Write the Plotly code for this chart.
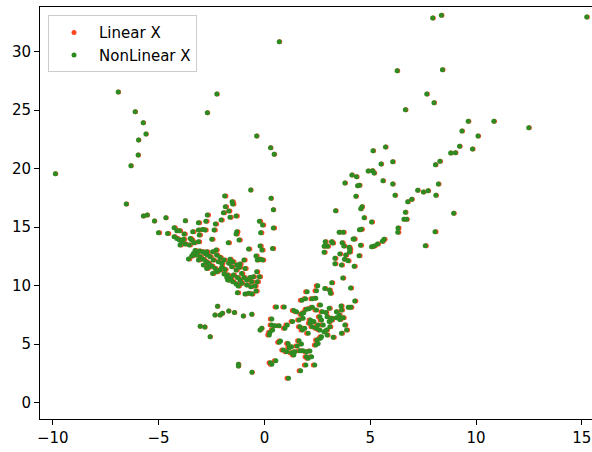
import plotly.graph_objects as go

# ---- Sparse upper-left points ----
a_nl_x = [-9.88, -6.91, -6.53, -6.31, -6.11, -5.95, -5.97, -5.73, -5.60, -5.72,
          -5.54, -5.20, -4.66, -3.74, -2.70, -2.25, 0.70, -0.37, 0.29, 0.46,
          -0.65, 0.31, 0.42]
a_lin_x = [-9.86, -6.89, -6.51, -6.29, -6.09, -5.93, -5.95, -5.71, -5.58, -5.70,
           -5.52, -5.18, -4.64, -3.72, -2.68, -2.23, 0.72, -0.35, 0.31, 0.48,
           -0.63, 0.33, 0.44]
a_y = [19.56, 26.55, 16.98, 20.26, 24.87, 22.45, 21.17, 23.93, 22.97, 15.96,
       16.04, 15.53, 15.81, 15.56, 24.79, 26.38, 30.86, 22.79, 21.80, 21.23,
       18.18, 17.47, 16.50]

# ---- Left cluster ----
b_nl_x = [-1.88, -1.53, -1.50, -1.85, -1.69, -1.94, -2.70, -1.63, -1.34, -3.12,
          -2.77, -2.05, -2.32, -0.24, -0.09, 0.42, -5.01, -4.58, -4.27, -4.14,
          -4.02, -3.80, -3.39, -3.12, -2.93, -2.81, -2.38, -1.31, -1.34, -0.18,
          -3.08, -4.27, -4.14, -4.02, -3.91, -3.83, -3.51, -3.44, -3.33, -3.12,
          -3.55, -3.75, -3.99, -2.49, -1.71, -1.20, -0.75, -0.21, -0.12, 0.38,
          -3.59, -3.36, -3.23, -3.44, -3.08, -2.92, -2.81, -2.70, -3.04, -2.89,
          -2.76, -2.65, -2.49, -2.34, -2.57, -2.42, -2.26, -2.10, -2.18, -2.02,
          -1.91, -1.63, -1.50, -1.69, -1.31, -1.16, -0.97, -2.65, -2.45, -2.26,
          -2.10, -1.91, -1.78, -1.66, -2.02, -1.87, -1.55, -1.34, -1.19, -1.08,
          -0.92, -0.40, -0.34, -0.21, -0.09, -1.47, -1.28, -1.16, -0.97, -0.84,
          -0.69, -0.53, -1.50, -1.34, -1.24, -1.08, -0.84, -0.65, -0.45, -0.61,
          -0.34, -0.37, -0.24, -1.74, -1.60, -1.75, -3.20, -3.28, -3.12, -2.89,
          -2.73, -2.45, -2.29, -2.73, -1.28, -0.92, -0.60, -0.40, -0.75]
b_lin_x = [-1.82, -1.47, -1.44, -1.79, -1.63, -1.88, -2.64, -1.57, -1.28, -3.06,
           -2.71, -1.99, -2.26, -0.18, -0.03, 0.48, -4.95, -4.52, -4.21, -4.08,
           -3.96, -3.74, -3.33, -3.06, -2.87, -2.75, -2.32, -1.25, -1.28, -0.12,
           -3.02, -4.21, -4.08, -3.96, -3.85, -3.77, -3.45, -3.38, -3.27, -3.06,
           -3.49, -3.69, -3.93, -2.43, -1.65, -1.14, -0.69, -0.15, -0.06, 0.44,
           -3.53, -3.30, -3.17, -3.38, -3.02, -2.86, -2.75, -2.64, -2.98, -2.83,
           -2.70, -2.59, -2.43, -2.28, -2.51, -2.36, -2.20, -2.04, -2.12, -1.96,
           -1.85, -1.57, -1.44, -1.63, -1.25, -1.10, -0.91, -2.59, -2.39, -2.20,
           -2.04, -1.85, -1.72, -1.60, -1.96, -1.81, -1.49, -1.28, -1.13, -1.02,
           -0.86, -0.34, -0.28, -0.15, -0.03, -1.41, -1.22, -1.10, -0.91, -0.78,
           -0.63, -0.47, -1.44, -1.28, -1.18, -1.02, -0.78, -0.59, -0.39, -0.55,
           -0.28, -0.31, -0.18, -1.68, -1.54, -1.69, -3.14, -3.22, -3.06, -2.83,
           -2.67, -2.39, -2.23, -2.67, -1.22, -0.86, -0.54, -0.34, -0.69]
b_y = [17.66, 17.18, 16.98, 16.75, 16.38, 16.24, 16.04, 15.84, 15.95, 15.38,
       15.50, 15.61, 15.27, 15.50, 15.18, 14.93, 14.53, 14.47, 14.96, 14.70,
       14.70, 14.41, 14.61, 14.76, 14.81, 14.76, 14.76, 14.61, 14.41, 14.53,
       14.33, 14.19, 14.04, 13.90, 13.76, 13.96, 14.04, 13.90, 13.67, 13.76,
       13.47, 13.56, 13.47, 13.96, 13.67, 13.90, 13.13, 13.39, 13.05, 13.19,
       12.28, 12.76, 12.62, 12.53, 12.96, 12.90, 12.76, 12.62, 12.48, 12.25,
       12.05, 11.91, 11.68, 11.48, 12.48, 12.19, 12.62, 12.42, 12.05, 11.91,
       12.19, 12.25, 12.05, 11.91, 11.77, 11.85, 12.19, 11.57, 11.05, 11.19,
       11.34, 11.00, 10.71, 10.48, 11.57, 11.39, 11.62, 11.34, 11.57, 11.05,
       11.48, 12.53, 12.19, 12.25, 12.19, 10.91, 10.71, 10.48, 10.71, 10.48,
       10.71, 10.77, 10.34, 10.14, 9.97, 10.20, 10.06, 9.91, 9.97, 10.34,
       10.34, 11.19, 10.77, 10.48, 10.63, 10.91, 12.65, 13.00, 12.19, 11.77,
       11.48, 12.90, 13.05, 12.90, 9.40, 9.28, 9.30, 9.55, 9.35]

# ---- Lower-left / centre-left points ----
c_nl_x = [-2.22, -2.34, -2.10, -1.99, -1.69, -1.42, -1.00, -0.60, -3.04, -2.82,
          -2.57, -0.21, -0.13, 0.23, 0.26, -1.23, -1.23, -0.59, 0.29, 0.35,
          0.54, 0.57, 0.94, 0.35, 0.34, 0.50, 0.70, 0.39, 0.97, 1.08,
          0.70, 0.76, 1.12, 1.17, 0.89, 1.05, 1.14]
c_lin_x = [-2.20, -2.32, -2.08, -1.97, -1.67, -1.40, -0.98, -0.58, -3.02, -2.80,
           -2.55, -0.19, -0.11, 0.16, 0.19, -1.21, -1.21, -0.57, 0.22, 0.28,
           0.47, 0.50, 0.87, 0.28, 0.27, 0.43, 0.63, 0.32, 0.90, 1.01,
           0.63, 0.69, 1.05, 1.10, 0.82, 0.98, 1.07]
c_y = [8.24, 7.50, 7.50, 7.64, 7.84, 7.70, 7.41, 7.55, 6.53, 6.47,
       5.64, 6.21, 6.36, 5.79, 5.99, 3.28, 3.14, 2.60, 3.42, 3.28,
       3.59, 8.18, 8.18, 7.15, 6.64, 6.58, 6.58, 6.21, 6.36, 6.64,
       5.16, 5.27, 5.07, 4.70, 4.50, 4.36, 2.08]

# ---- Central dense cluster ----
d_nl_x = [1.39, 1.52, 1.75, 1.86, 1.99, 2.12, 2.27, 2.46, 2.65, 2.74,
          2.90, 3.06, 2.96, 3.17, 3.40, 3.53, 3.64, 3.40, 3.56, 3.72,
          1.33, 1.64, 1.83, 2.18, 2.34, 2.62, 2.70, 2.54, 2.78, 2.93,
          3.09, 3.17, 3.06, 3.80, 3.88, 3.64, 3.25, 1.68, 1.80, 1.91,
          2.07, 2.27, 2.15, 2.46, 2.62, 2.81, 2.96, 2.70, 2.49, 2.43,
          2.54, 2.65, 1.28, 1.64, 1.75, 1.55, 1.68, 1.83, 1.99, 2.15,
          1.44, 1.28, 1.39, 1.99, 2.07, 2.23, 1.96, 2.38, 1.71]
d_lin_x = [1.32, 1.45, 1.68, 1.79, 1.92, 2.05, 2.20, 2.39, 2.58, 2.67,
           2.95, 3.11, 3.01, 3.22, 3.45, 3.58, 3.69, 3.45, 3.61, 3.77,
           1.26, 1.57, 1.76, 2.11, 2.27, 2.55, 2.63, 2.47, 2.71, 2.98,
           3.14, 3.22, 3.11, 3.85, 3.93, 3.69, 3.30, 1.61, 1.73, 1.84,
           2.00, 2.20, 2.08, 2.39, 2.55, 2.86, 3.01, 2.63, 2.42, 2.36,
           2.47, 2.58, 1.21, 1.57, 1.68, 1.48, 1.61, 1.76, 1.92, 2.08,
           1.37, 1.21, 1.32, 1.92, 2.00, 2.16, 1.89, 2.31, 1.64]
d_y = [7.87, 7.78, 7.55, 7.69, 7.98, 8.03, 8.15, 7.92, 8.35, 7.78,
       7.70, 8.07, 7.35, 7.21, 7.78, 7.50, 7.92, 7.27, 7.12, 7.27,
       6.93, 7.07, 7.21, 7.07, 6.93, 7.35, 7.07, 6.64, 6.64, 6.21,
       6.50, 7.07, 6.93, 6.64, 6.21, 5.93, 5.59, 6.50, 6.21, 6.36,
       5.93, 6.50, 6.78, 6.36, 6.21, 6.07, 5.79, 5.64, 5.36, 4.93,
       5.07, 5.50, 4.79, 5.30, 5.02, 4.85, 4.45, 4.45, 4.36, 4.42,
       4.36, 4.27, 4.08, 3.93, 3.79, 3.93, 3.22, 3.22, 2.74]

# ---- Central upper arm ----
e_nl_x = [5.06, 6.31, 6.30, 8.06, 7.60, 3.53, 3.72, 4.49, 4.58, 4.19,
          4.24, 2.87, 3.17, 3.22, 2.82, 2.98, 3.67, 3.75, 4.00, 4.54,
          5.06, 5.18, 5.34, 5.57, 5.65, 2.82, 3.56, 4.03, 4.02, 3.84,
          4.47, 3.33, 3.78, 3.95, 3.33, 3.64, 4.24, 3.18, 3.70, 2.52,
          2.85, 3.07, 3.12, 4.07, 4.27, 2.02, 2.46, 1.77, 1.94, 2.26,
          2.43, 3.62, 3.96, 4.08]
e_lin_x = [5.11, 6.36, 6.35, 8.11, 7.65, 3.58, 3.77, 4.54, 4.63, 4.24,
           4.29, 2.92, 3.22, 3.27, 2.87, 3.03, 3.72, 3.80, 4.05, 4.59,
           5.11, 5.23, 5.39, 5.62, 5.70, 2.87, 3.61, 4.08, 4.07, 3.89,
           4.52, 3.38, 3.83, 4.00, 3.38, 3.69, 4.29, 3.23, 3.75, 2.45,
           2.90, 3.12, 3.17, 4.12, 4.32, 1.95, 2.39, 1.70, 1.87, 2.19,
           2.36, 3.67, 4.01, 4.13]
e_y = [15.44, 14.93, 14.56, 14.62, 13.42, 14.56, 14.56, 14.79, 14.82, 13.99,
       13.99, 13.76, 13.76, 13.65, 13.37, 13.37, 13.68, 13.39, 13.28, 13.45,
       13.33, 13.39, 13.56, 13.79, 13.96, 12.85, 12.71, 13.11, 12.88, 12.62,
       12.56, 12.34, 12.26, 12.14, 11.88, 11.77, 11.66, 10.26, 10.66, 10.00,
       9.77, 9.63, 9.35, 9.80, 8.69, 9.49, 9.57, 8.75, 8.89, 8.89,
       8.92, 8.26, 8.15, 8.15]

# ---- Right upper arm ----
f_nl_x = [7.95, 8.36, 15.23, 6.27, 8.41, 7.67, 8.01, 6.66, 9.63, 10.84,
          12.49, 9.33, 10.09, 9.22, 9.83, 8.80, 9.02, 5.72, 5.13, 5.51,
          6.06, 8.08, 8.29, 4.13, 4.35, 4.90, 5.10, 5.18, 3.80, 4.40,
          4.49, 5.60, 6.06, 8.22, 4.32, 6.17, 7.24, 7.51, 7.73, 8.10,
          6.77, 6.96, 3.36, 4.61, 4.55, 6.66, 8.94, 4.71, 6.59, 6.72]
f_lin_x = [7.98, 8.39, 15.26, 6.30, 8.44, 7.70, 8.04, 6.69, 9.66, 10.87,
           12.52, 9.36, 10.12, 9.25, 9.86, 8.83, 9.05, 5.75, 5.16, 5.54,
           6.09, 8.11, 8.32, 4.16, 4.38, 4.93, 5.13, 5.21, 3.83, 4.43,
           4.52, 5.63, 6.09, 8.25, 4.35, 6.20, 7.27, 7.54, 7.76, 8.13,
           6.80, 6.99, 3.39, 4.64, 4.58, 6.69, 8.97, 4.74, 6.62, 6.75]
f_y = [32.88, 33.11, 32.97, 28.38, 28.46, 26.38, 25.64, 25.04, 24.05, 24.05,
       23.50, 23.22, 22.79, 21.91, 21.68, 21.34, 21.37, 21.85, 21.54, 20.40,
       20.60, 20.34, 20.63, 19.46, 19.32, 19.80, 19.83, 19.63, 18.78, 18.55,
       18.58, 18.97, 18.69, 18.69, 17.64, 17.73, 18.15, 18.01, 18.12, 17.73,
       17.18, 17.38, 16.41, 16.75, 16.58, 16.27, 16.19, 15.81, 15.67, 15.67]

x_ticks = [-10, -5, 0, 5, 10, 15]
y_ticks = [0, 5, 10, 15, 20, 25, 30]

nonlinear_x = a_nl_x + b_nl_x + c_nl_x + d_nl_x + e_nl_x + f_nl_x
linear_x = a_lin_x + b_lin_x + c_lin_x + d_lin_x + e_lin_x + f_lin_x
y_vals = a_y + b_y + c_y + d_y + e_y + f_y

FONT = dict(family="DejaVu Sans", size=15, color="black")

fig = go.Figure()
fig.add_trace(go.Scatter(
    x=linear_x, y=y_vals, mode="markers", name="Linear X",
    marker=dict(color="#ff4522", size=5, line=dict(width=0))))
fig.add_trace(go.Scatter(
    x=nonlinear_x, y=y_vals, mode="markers", name="NonLinear X",
    marker=dict(color="#2e8b22", size=5, line=dict(width=0))))

fig.update_layout(
    width=592, height=452,
    margin=dict(l=40, r=0, t=7, b=33, autoexpand=False),
    paper_bgcolor="white", plot_bgcolor="white",
    font=FONT,
    showlegend=True,
    legend=dict(x=0.0145, y=0.98, xanchor="left", yanchor="top",
                bgcolor="rgba(255,255,255,0.8)", bordercolor="#cccccc",
                borderwidth=1, font=FONT, itemwidth=40, tracegroupgap=0),
    xaxis=dict(range=[-10.605, 15.48], tickvals=x_ticks, ticks="outside",
               ticklen=5, tickwidth=1, tickcolor="black", automargin=False,
               showline=True, linecolor="black", linewidth=1, mirror=True,
               showgrid=False, zeroline=False, tickfont=FONT),
    yaxis=dict(range=[-1.393, 33.82], tickvals=y_ticks, ticks="outside",
               ticklen=5, tickwidth=1, tickcolor="black", automargin=False,
               showline=True, linecolor="black", linewidth=1, mirror=False,
               showgrid=False, zeroline=False, tickfont=FONT),
)

fig.write_html(
    "out.html",
    config={"displayModeBar": False},
    post_script="document.body.style.margin='0';document.body.style.padding='0';"
                "document.body.style.overflow='hidden';",
)
